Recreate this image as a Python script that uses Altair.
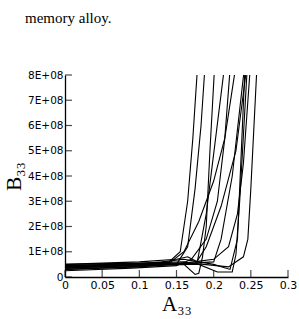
import altair as alt
import pandas as pd

# curves: x (A33) and y (B33, units of 1E+08) in path order
curves = {
    "c1": ([0.0, 0.05, 0.1, 0.14, 0.155, 0.165, 0.172, 0.178],
           [0.35, 0.42, 0.5, 0.6, 1.0, 3.0, 5.5, 8.2]),
    "c2": ([0.0, 0.06, 0.12, 0.15, 0.165, 0.175, 0.183, 0.188],
           [0.45, 0.5, 0.55, 0.5, 1.2, 3.5, 6.0, 8.2]),
    "c3": ([0.0, 0.08, 0.16, 0.175, 0.18, 0.185, 0.19, 0.195, 0.201],
           [0.3, 0.4, 0.5, 0.1, 0.15, 0.8, 2.0, 5.0, 8.2]),
    "c4": ([0.0, 0.1, 0.14, 0.16, 0.18, 0.2, 0.215, 0.229],
           [0.4, 0.5, 0.55, 1.0, 2.2, 3.8, 5.5, 8.2]),
    "c5": ([0.0, 0.1, 0.16, 0.175, 0.19, 0.21, 0.23, 0.244],
           [0.5, 0.55, 0.6, 0.5, 1.2, 2.8, 5.0, 8.2]),
    "c6": ([0.0, 0.1, 0.17, 0.2, 0.21, 0.225, 0.241],
           [0.35, 0.45, 0.55, 0.6, 1.5, 4.0, 8.2]),
    "c7": ([0.0, 0.12, 0.18, 0.205, 0.225, 0.23, 0.235, 0.245],
           [0.4, 0.5, 0.5, 0.2, 0.2, 0.9, 3.0, 8.2]),
    "c8": ([0.0, 0.1, 0.16, 0.2, 0.22, 0.232, 0.24, 0.249],
           [0.3, 0.4, 0.55, 0.7, 1.2, 2.5, 4.5, 8.2]),
    "c9": ([0.0, 0.1, 0.17, 0.22, 0.24, 0.246, 0.25, 0.258],
           [0.45, 0.5, 0.55, 0.4, 0.8, 1.5, 3.5, 8.2]),
    "c10": ([0.0, 0.09, 0.15, 0.17, 0.19, 0.205, 0.215, 0.222],
            [0.25, 0.35, 0.45, 0.7, 1.5, 3.0, 5.5, 8.2]),
    "c11": ([0.0, 0.1, 0.15, 0.165, 0.178, 0.19, 0.214],
            [0.5, 0.6, 0.7, 0.8, 0.6, 2.5, 8.2]),
    "c12": ([0.0, 0.07, 0.13, 0.16, 0.2, 0.222, 0.232, 0.242],
            [0.4, 0.45, 0.6, 0.7, 0.5, 0.3, 1.5, 8.2]),
}

x_ticks = [0, 0.05, 0.1, 0.15, 0.2, 0.25, 0.3]
y_ticks = [0, 1e8, 2e8, 3e8, 4e8, 5e8, 6e8, 7e8, 8e8]

rows = []
for name, (xs, ys) in curves.items():
    for i, (a, b) in enumerate(zip(xs, ys)):
        rows.append({"curve": name, "order": i, "A": a, "B": b * 1e8})
df = pd.DataFrame(rows)

W, H = 223, 202

xscale = alt.Scale(domain=[0, 0.3], nice=False)
yscale = alt.Scale(domain=[0, 8e8], nice=False)

ylabel = "datum.value == 0 ? '0' : format(datum.value / 1e8, 'd') + 'E+08'"

xaxis = alt.Axis(values=x_ticks, ticks=False, title="A₃₃", grid=False,
                 labelExpr="datum.value == 0 ? '0' : format(datum.value, '.2~f')",
                 labelFont="DejaVu Sans", labelFontSize=11, labelColor="black",
                 labelPadding=2, domainColor="black", domainWidth=1.3,
                 labelOverlap=False, labelBound=False,
                 titleFont="Liberation Serif", titleFontSize=21,
                 titleFontWeight="normal", titlePadding=3, labelFlush=False)
yaxis = alt.Axis(values=y_ticks, ticks=False, title="B₃₃", grid=False,
                 labelExpr=ylabel,
                 labelFont="DejaVu Sans", labelFontSize=10.5, labelColor="black",
                 labelPadding=2, domainColor="black", domainWidth=1.3,
                 labelOverlap=False, labelBound=False,
                 titleFont="Liberation Serif", titleFontSize=21,
                 titleFontWeight="normal", titleX=-41, titleY=H / 2,
                 titleAlign="center", titleBaseline="bottom")

lines = alt.Chart(df).mark_line(color="black", strokeWidth=1.1, clip=True).encode(
    x=alt.X("A:Q", scale=xscale, axis=xaxis, title="A₃₃"),
    y=alt.Y("B:Q", scale=yscale, axis=yaxis, title="B₃₃"),
    detail="curve:N",
    order="order:Q",
)

xt = alt.Chart(pd.DataFrame({"t": x_ticks})).mark_tick(
    color="black", size=7, thickness=1.2, orient="vertical").encode(
    x=alt.X("t:Q", scale=xscale, axis=xaxis, title="A₃₃"), y=alt.value(H - 3.5))

yt = alt.Chart(pd.DataFrame({"t": y_ticks})).mark_tick(
    color="black", size=7, thickness=1.2, orient="horizontal").encode(
    y=alt.Y("t:Q", scale=yscale, axis=yaxis, title="B₃₃"), x=alt.value(3.5))

chart = alt.layer(lines, xt, yt).properties(
    width=W, height=H,
    title=alt.TitleParams("memory alloy.", anchor="start", font="Liberation Serif",
                          fontSize=15, fontWeight="normal", color="black",
                          dx=-40, offset=44, frame="group"),
    autosize=alt.AutoSizeParams(type="none"),
    padding={"left": 65, "top": 75, "right": 11, "bottom": 42},
).configure_view(stroke=None)

chart.save("out.html", embed_options={"renderer": "svg", "actions": False})
